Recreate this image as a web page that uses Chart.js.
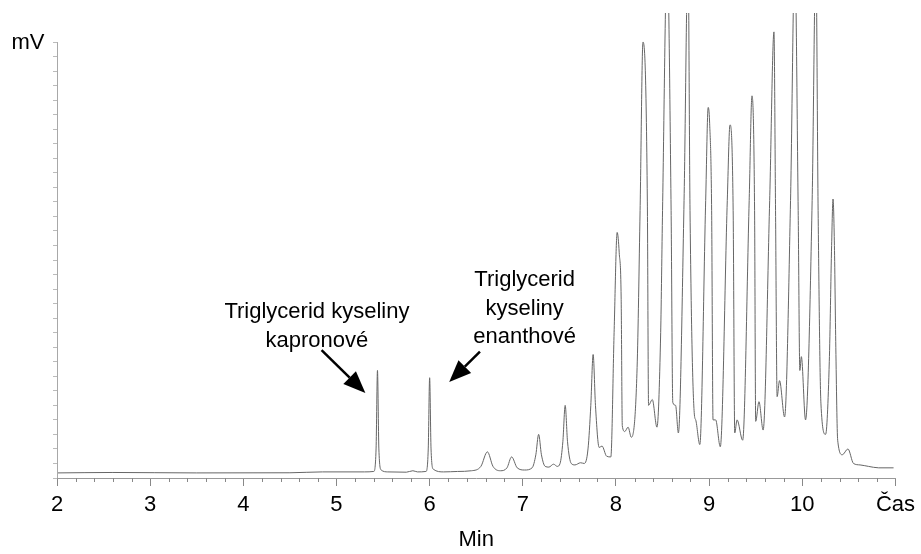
<!DOCTYPE html>
<html>
<head>
<meta charset="utf-8">
<script src="https://cdn.jsdelivr.net/npm/chart.js@4"></script>
<style>
    html, body { margin: 0; padding: 0; background: #fff; }
    #wrap { width: 921px; height: 554px; }
</style>
</head>
<body>
<div id="wrap"><canvas id="chromChart"></canvas></div>
<script>
// retention time (min) and detector signal (mV, arbitrary units)
var times = [
    2.00, 2.60, 3.50, 4.50, 4.85, 5.30, 5.40, 5.425, 5.44, 5.455, 5.48, 5.55, 5.75, 5.82, 5.87,
    5.96, 5.985, 6.00, 6.015, 6.04, 6.15, 6.30, 6.45, 6.55, 6.62, 6.68, 6.76, 6.83, 6.88, 6.94,
    7.02, 7.10, 7.14, 7.17, 7.20, 7.24, 7.28, 7.33, 7.37, 7.40, 7.43, 7.455, 7.48, 7.52, 7.56,
    7.62, 7.66, 7.70, 7.73, 7.755, 7.78, 7.82, 7.85, 7.90, 7.945, 7.98, 8.013, 8.035, 8.056, 8.068,
    8.095, 8.13, 8.165, 8.227, 8.259, 8.29, 8.337, 8.35, 8.39, 8.44, 8.48, 8.50, 8.55, 8.592, 8.61,
    8.64, 8.67, 8.731, 8.774, 8.795, 8.84, 8.856, 8.90, 8.963, 8.99, 9.005, 9.027, 9.042, 9.07, 9.12,
    9.195, 9.224, 9.258, 9.275, 9.30, 9.36, 9.43, 9.46, 9.488, 9.50, 9.535, 9.58, 9.65, 9.696, 9.713,
    9.73, 9.756, 9.81, 9.874, 9.92, 9.956, 9.974, 9.99, 10.035, 10.106, 10.146, 10.17, 10.20, 10.25, 10.29,
    10.315, 10.33, 10.345, 10.36, 10.38, 10.43, 10.49, 10.55, 10.62, 10.71, 10.82, 10.98
];
var signal = [
    0.35, 0.38, 0.35, 0.36, 0.42, 0.42, 0.45, 2.0, 7.4, 2.0, 0.55, 0.42, 0.40, 0.5, 0.42,
    0.45, 2.0, 6.9, 2.0, 0.6, 0.42, 0.45, 0.5, 0.8, 1.8, 0.8, 0.5, 0.7, 1.45, 0.7,
    0.55, 0.7, 1.6, 3.0, 1.6, 0.8, 0.75, 0.95, 0.8, 1.0, 2.5, 5.0, 2.5, 1.0, 0.9,
    1.05, 1.0, 2.0, 5.0, 8.5, 5.0, 2.1, 2.2, 1.5, 1.45, 10.0, 16.9, 15.5, 12.3, 3.6,
    3.2, 3.5, 2.8, 7.6, 18.4, 30.0, 19.0, 5.0, 5.4, 3.5, 10.0, 18.4, 36.0, 18.4, 5.2,
    5.0, 3.1, 19.1, 36.0, 18.4, 4.5, 4.0, 2.3, 19.1, 25.5, 24.5, 18.4, 4.0, 4.0, 2.15,
    19.1, 24.3, 18.4, 3.1, 4.0, 2.6, 19.1, 26.3, 18.4, 3.9, 5.25, 3.3, 19.1, 30.7, 18.4,
    5.6, 6.7, 4.2, 19.1, 36.0, 18.4, 7.4, 8.35, 4.0, 19.1, 36.0, 18.4, 5.15, 3.0, 8.0,
    16.0, 19.2, 16.0, 9.0, 2.6, 1.6, 2.0, 1.0, 0.9, 0.8, 0.7, 0.7
];
// labels for the whole minutes 2..11
var xLabels = ['2', '3', '4', '5', '6', '7', '8', '9', '10', 'Čas'];
var yTickTop = 30;

var notes = [
    { lines: ['Triglycerid kyseliny', 'kapronové'], x: 4.79, y: 11.4, tail: [4.84, 8.8], tip: [5.31, 5.85] },
    { lines: ['Triglycerid', 'kyseliny', 'enanthové'], x: 7.02, y: 13.6, tail: [6.54, 8.7], tip: [6.21, 6.6] }
];

var FONT = 'Liberation Sans, Arial, sans-serif';

var decorPlugin = {
    id: 'decor',
    afterDraw: function (chart) {
        var ctx = chart.ctx;
        var xs = chart.scales.x, ys = chart.scales.y;
        var left = chart.chartArea.left, bottom = chart.chartArea.bottom;
        ctx.save();

        // y axis line only up to the last tick
        ctx.strokeStyle = '#a8a8a8';
        ctx.lineWidth = 1;
        ctx.beginPath();
        ctx.moveTo(left + 0.5, ys.getPixelForValue(0));
        ctx.lineTo(left + 0.5, ys.getPixelForValue(yTickTop));
        ctx.stroke();

        // minor x ticks every 0.2 min
        ctx.strokeStyle = '#888';
        for (var i = 0; i <= 45; i++) {
            if (i % 5 === 0) continue;
            var px = Math.round(xs.getPixelForValue(2 + i / 5)) + 0.5;
            ctx.beginPath();
            ctx.moveTo(px, bottom);
            ctx.lineTo(px, bottom + 4);
            ctx.stroke();
        }

        // unit label
        ctx.fillStyle = '#000';
        ctx.font = '22px ' + FONT;
        ctx.textAlign = 'center';
        ctx.textBaseline = 'middle';
        ctx.fillText('mV', left - 29, ys.getPixelForValue(yTickTop) + 1);

        // peak annotations
        notes.forEach(function (n) {
            var cx = xs.getPixelForValue(n.x);
            var cy = ys.getPixelForValue(n.y);
            n.lines.forEach(function (line, k) {
                ctx.fillText(line, cx, cy + k * 28.5);
            });
            var x0 = xs.getPixelForValue(n.tail[0]), y0 = ys.getPixelForValue(n.tail[1]);
            var x1 = xs.getPixelForValue(n.tip[0]), y1 = ys.getPixelForValue(n.tip[1]);
            var ang = Math.atan2(y1 - y0, x1 - x0);
            var headLen = 22, headW = 9;
            var bx = x1 - headLen * Math.cos(ang), by = y1 - headLen * Math.sin(ang);
            ctx.strokeStyle = '#000';
            ctx.lineWidth = 2.5;
            ctx.beginPath();
            ctx.moveTo(x0, y0);
            ctx.lineTo(bx, by);
            ctx.stroke();
            ctx.beginPath();
            ctx.moveTo(x1, y1);
            ctx.lineTo(bx + headW * Math.sin(ang), by - headW * Math.cos(ang));
            ctx.lineTo(bx - headW * Math.sin(ang), by + headW * Math.cos(ang));
            ctx.closePath();
            ctx.fill();
        });
        ctx.restore();
    }
};

var points = times.map(function (t, i) { return { x: t, y: signal[i] }; });

new Chart(document.getElementById('chromChart').getContext('2d'), {
    type: 'line',
    data: {
        datasets: [{
            data: points,
            borderColor: '#666',
            borderWidth: 1,
            pointRadius: 0,
            fill: false,
            cubicInterpolationMode: 'monotone'
        }]
    },
    options: {
        responsive: true,
        maintainAspectRatio: false,
        animation: false,
        layout: { padding: { top: 13, right: 24, left: 0, bottom: 0 } },
        plugins: {
            legend: { display: false },
            tooltip: { enabled: false }
        },
        scales: {
            x: {
                type: 'linear',
                min: 2,
                max: 11,
                afterBuildTicks: function (scale) {
                    scale.ticks = xLabels.map(function (l, i) { return { value: 2 + i }; });
                },
                afterFit: function (scale) { scale.height = 76; },
                ticks: {
                    autoSkip: false,
                    maxRotation: 0,
                    color: '#000',
                    padding: 6,
                    font: { family: FONT, size: 22 },
                    callback: function (v) { return xLabels[Math.round(v) - 2]; }
                },
                grid: { drawOnChartArea: false, tickLength: 8, color: '#888' },
                border: { color: '#999' },
                title: {
                    display: true,
                    text: 'Min',
                    color: '#000',
                    font: { family: FONT, size: 22 },
                    padding: { top: 0, bottom: 1 }
                }
            },
            y: {
                min: 0,
                max: 32,
                afterBuildTicks: function (scale) {
                    var t = [];
                    for (var v = 0; v <= yTickTop; v++) t.push({ value: v });
                    scale.ticks = t;
                },
                afterFit: function (scale) { scale.width = 57; },
                ticks: { display: false },
                grid: { drawOnChartArea: false, tickLength: 4, color: '#bbb' },
                border: { display: false }
            }
        }
    },
    plugins: [decorPlugin]
});
</script>
</body>
</html>
